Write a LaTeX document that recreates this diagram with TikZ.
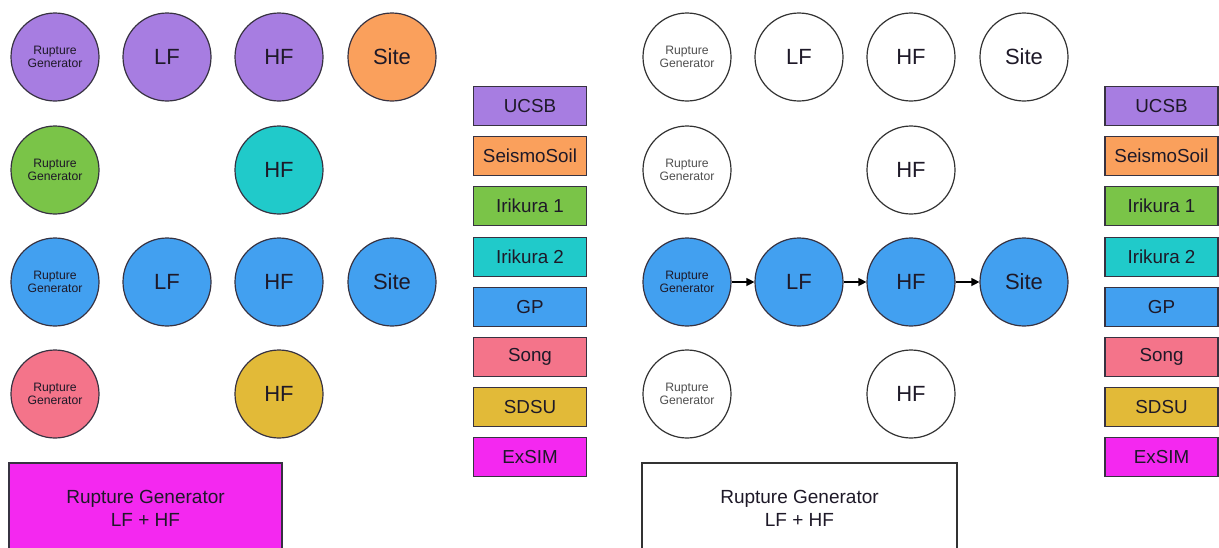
\documentclass[tikz,border=0pt]{standalone}
\usepackage{fontspec}
\setmainfont{Liberation Sans}
\usetikzlibrary{arrows.meta}
\definecolor{cpurple}{RGB}{167,125,225}
\definecolor{corange}{RGB}{250,160,92}
\definecolor{cgreen}{RGB}{122,196,72}
\definecolor{ccyan}{RGB}{32,202,202}
\definecolor{cblue}{RGB}{66,160,240}
\definecolor{cpink}{RGB}{244,116,138}
\definecolor{cgold}{RGB}{226,186,56}
\definecolor{cmagenta}{RGB}{244,40,240}
\definecolor{cline}{RGB}{55,50,65}
\definecolor{ctext}{RGB}{30,25,40}
\definecolor{cgraytext}{RGB}{80,80,80}
\definecolor{cgrayline}{RGB}{50,50,50}
\tikzset{
  circ/.style={circle, draw=cline, line width=1.2pt, minimum size=88pt, inner sep=0pt, text=ctext, font=\fontsize{22}{24}\selectfont},
  rg/.style={circ, align=center, font=\fontsize{12.2}{13}\selectfont},
  plain/.style={fill=white, draw=cgrayline},
  plainrg/.style={plain, text=cgraytext},
  legbox/.style={rectangle, draw=cline, line width=1.2pt, minimum width=113pt, minimum height=39pt, inner sep=0pt, text=ctext, font=\fontsize{18.8}{20}\selectfont},
  bigbox/.style={rectangle, draw=cline, line width=1.2pt, minimum width=273pt, minimum height=90pt, align=center, text=ctext, font=\fontsize{19}{23}\selectfont},
  flow/.style={line width=1.3pt, draw=black, -{Triangle[length=8pt,width=8pt]}}
}
\begin{document}
\begin{tikzpicture}[x=1pt,y=-1pt]
\useasboundingbox (0,0) rectangle (1219,547);
% left panel
\node[rg, fill=cpurple] (a1) at (55,57) {Rupture\\Generator};
\node[circ, fill=cpurple] (a2) at (167,57) {LF};
\node[circ, fill=cpurple] (a3) at (279,57) {HF};
\node[circ, fill=corange] (a4) at (392,57) {Site};
\node[rg, fill=cgreen] (b1) at (55,170) {Rupture\\Generator};
\node[circ, fill=ccyan] (b3) at (279,170) {HF};
\node[rg, fill=cblue] (c1) at (55,282) {Rupture\\Generator};
\node[circ, fill=cblue] (c2) at (167,282) {LF};
\node[circ, fill=cblue] (c3) at (279,282) {HF};
\node[circ, fill=cblue] (c4) at (392,282) {Site};
\node[rg, fill=cpink] (d1) at (55,394) {Rupture\\Generator};
\node[circ, fill=cgold] (d3) at (279,394) {HF};
\node[bigbox, fill=cmagenta] (e) at (145.5,508) {Rupture Generator\\LF + HF};
% left legend
\node[legbox, fill=cpurple] (l1) at (530,106) {UCSB};
\node[legbox, fill=corange] (l2) at (530,156) {SeismoSoil};
\node[legbox, fill=cgreen] (l3) at (530,206) {Irikura 1};
\node[legbox, fill=ccyan] (l4) at (530,257) {Irikura 2};
\node[legbox, fill=cblue] (l5) at (530,307) {GP};
\node[legbox, fill=cpink] (l6) at (530,357) {Song};
\node[legbox, fill=cgold] (l7) at (530,407) {SDSU};
\node[legbox, fill=cmagenta] (l8) at (530,457) {ExSIM};
% right panel
\node[rg, plainrg] (p1) at (687,57) {Rupture\\Generator};
\node[circ, plain] (p2) at (799,57) {LF};
\node[circ, plain] (p3) at (911,57) {HF};
\node[circ, plain] (p4) at (1024,57) {Site};
\node[rg, plainrg] (q1) at (687,170) {Rupture\\Generator};
\node[circ, plain] (q3) at (911,170) {HF};
\node[rg, fill=cblue] (r1) at (687,282) {Rupture\\Generator};
\node[circ, fill=cblue] (r2) at (799,282) {LF};
\node[circ, fill=cblue] (r3) at (911,282) {HF};
\node[circ, fill=cblue] (r4) at (1024,282) {Site};
\node[rg, plainrg] (s1) at (687,394) {Rupture\\Generator};
\node[circ, plain] (s3) at (911,394) {HF};
\node[bigbox, plain, minimum width=315pt] (t) at (799.5,508) {Rupture Generator\\LF + HF};
\draw[flow] (r1) -- (r2);
\draw[flow] (r2) -- (r3);
\draw[flow] (r3) -- (r4);
% right legend
\node[legbox, fill=cpurple] (m1) at (1161.5,106) {UCSB};
\node[legbox, fill=corange] (m2) at (1161.5,156) {SeismoSoil};
\node[legbox, fill=cgreen] (m3) at (1161.5,206) {Irikura 1};
\node[legbox, fill=ccyan] (m4) at (1161.5,257) {Irikura 2};
\node[legbox, fill=cblue] (m5) at (1161.5,307) {GP};
\node[legbox, fill=cpink] (m6) at (1161.5,357) {Song};
\node[legbox, fill=cgold] (m7) at (1161.5,407) {SDSU};
\node[legbox, fill=cmagenta] (m8) at (1161.5,457) {ExSIM};
\end{tikzpicture}
\end{document}
